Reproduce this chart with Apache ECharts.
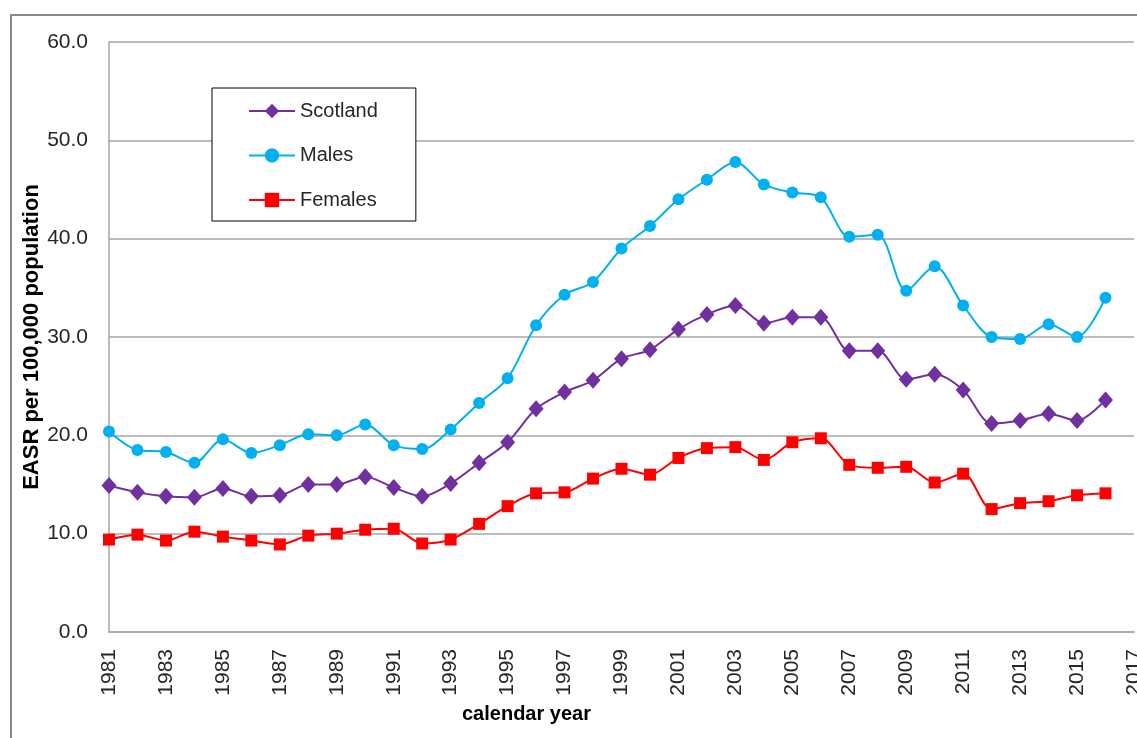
<!DOCTYPE html>
<html>
<head>
<meta charset="utf-8">
<title>EASR per 100,000 population</title>
<script src="https://cdn.jsdelivr.net/npm/echarts@6/dist/echarts.min.js"></script>
<style>
  html, body { margin: 0; padding: 0; background: #fff; }
  #chart { width: 1137px; height: 738px; }
</style>
</head>
<body>
<div id="chart"></div>
<script>
// calendar years on the x axis (2017 only carries a label)
const years = [
  '1981', '1982', '1983', '1984', '1985', '1986', '1987', '1988', '1989', '1990',
  '1991', '1992', '1993', '1994', '1995', '1996', '1997', '1998', '1999', '2000',
  '2001', '2002', '2003', '2004', '2005', '2006', '2007', '2008', '2009', '2010',
  '2011', '2012', '2013', '2014', '2015', '2016', '2017',
]

const scotland = [
  14.9, 14.2, 13.8, 13.7, 14.6, 13.8, 13.9, 15.0, 15.0, 15.8,
  14.7, 13.8, 15.1, 17.2, 19.3, 22.7, 24.4, 25.6, 27.8, 28.7,
  30.8, 32.3, 33.2, 31.4, 32.0, 32.0, 28.6, 28.6, 25.7, 26.2,
  24.6, 21.2, 21.5, 22.2, 21.5, 23.6,
]

const males = [
  20.4, 18.5, 18.3, 17.2, 19.6, 18.2, 19.0, 20.1, 20.0, 21.1,
  19.0, 18.6, 20.6, 23.3, 25.8, 31.2, 34.3, 35.6, 39.0, 41.3,
  44.0, 46.0, 47.8, 45.5, 44.7, 44.2, 40.2, 40.4, 34.7, 37.2,
  33.2, 30.0, 29.8, 31.3, 30.0, 34.0,
]

const females = [
  9.4, 9.9, 9.3, 10.2, 9.7, 9.3, 8.9, 9.8, 10.0, 10.4,
  10.5, 9.0, 9.4, 11.0, 12.8, 14.1, 14.2, 15.6, 16.6, 16.0,
  17.7, 18.7, 18.8, 17.5, 19.3, 19.7, 17.0, 16.7, 16.8, 15.2,
  16.1, 12.5, 13.1, 13.3, 13.9, 14.1,
]

const textColor = '#262626'
const gridColor = '#a6a6a6'
const font = 'Liberation Sans, Arial, sans-serif'

const chart = echarts.init(document.getElementById('chart'), null, { renderer: 'canvas' })

const lineSeries = (name, data, color, symbol, symbolSize) => ({
  name: name,
  type: 'line',
  data: data,
  smooth: 0.3,
  symbol: symbol,
  symbolSize: symbolSize,
  lineStyle: { color: color, width: 2 },
  itemStyle: { color: color },
})

chart.setOption({
  animation: false,
  textStyle: { fontFamily: font },
  graphic: [
    {
      // outer chart-area frame, only the left and top edges are visible
      type: 'rect',
      silent: true,
      shape: { x: 11, y: 15, width: 2000, height: 2000 },
      style: { fill: 'none', stroke: '#898989', lineWidth: 2 },
    },
  ],
  title: {
    text: 'calendar year',
    left: 462,
    top: 704,
    padding: 0,
    textStyle: { fontFamily: font, fontSize: 20, fontWeight: 'bold', color: '#000' },
  },
  legend: {
    orient: 'vertical',
    left: 212,
    top: 88,
    padding: [13, 38, 11, 36],
    itemGap: 24.5,
    itemWidth: 46,
    itemHeight: 18,
    borderColor: '#000',
    borderWidth: 1,
    backgroundColor: '#fff',
    textStyle: { fontFamily: font, fontSize: 20, color: textColor },
    data: ['Scotland', 'Males', 'Females'],
  },
  grid: {
    left: 109,
    right: 3,
    top: 42,
    bottom: 106,
    containLabel: false,
    outerBoundsMode: 'none',
  },
  xAxis: {
    type: 'category',
    data: years,
    boundaryGap: false,
    axisLine: { lineStyle: { color: gridColor, width: 1.5 } },
    axisTick: { show: false },
    axisLabel: {
      interval: 1,
      rotate: 90,
      margin: 17,
      fontSize: 21,
      color: textColor,
      fontFamily: font,
    },
    splitLine: { show: false },
  },
  yAxis: {
    type: 'value',
    min: 0,
    max: 60,
    interval: 10,
    name: 'EASR per 100,000 population',
    nameLocation: 'middle',
    nameGap: 66,
    nameMoveOverlap: false,
    nameTextStyle: { fontFamily: font, fontSize: 22, fontWeight: 'bold', color: '#000' },
    axisLine: { show: true, lineStyle: { color: gridColor, width: 1.5 } },
    axisTick: { show: false },
    axisLabel: {
      margin: 21,
      fontSize: 21,
      color: textColor,
      fontFamily: font,
      formatter: (v) => v.toFixed(1),
    },
    splitLine: { lineStyle: { color: gridColor, width: 1.5 } },
  },
  series: [
    lineSeries('Scotland', scotland, '#7030A0', 'diamond', [15, 17]),
    lineSeries('Males', males, '#00B0F0', 'circle', 12),
    lineSeries('Females', females, '#FF0000', 'rect', 12),
  ],
})
</script>
</body>
</html>
